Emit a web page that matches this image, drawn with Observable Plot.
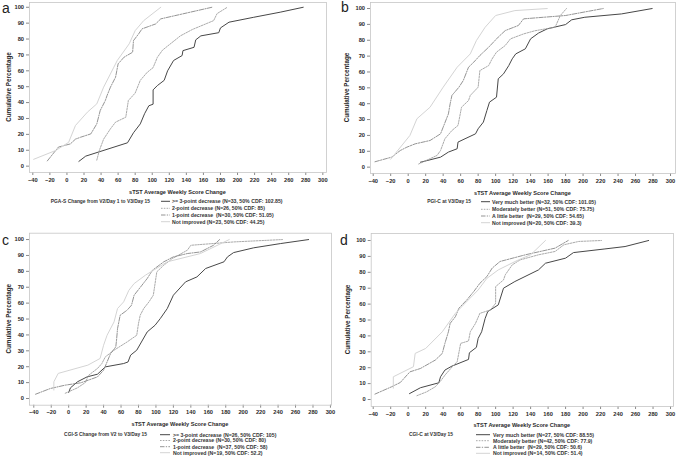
<!DOCTYPE html>
<html><head><meta charset="utf-8">
<script src="https://cdn.jsdelivr.net/npm/d3@7"></script>
<script src="https://cdn.jsdelivr.net/npm/@observablehq/plot@0.6"></script>
<style>
html,body{margin:0;padding:0;background:#fff;}
#root{position:relative;width:677px;height:458px;overflow:hidden;font-family:"Liberation Sans",Arial,sans-serif;}
.panel{position:absolute;}
.panel svg{position:absolute;left:0;top:0;overflow:visible;}
</style></head><body><div id="root"></div>
<script>
// ---------- tick labels / titles ----------
const xTicks = [-40,-20,0,20,40,60,80,100,120,140,160,180,200,220,240,260,280,300];
const yTicks = [0,10,20,30,40,50,60,70,80,90,100];
const xAxisTitle = "sTST Average Weekly Score Change";
const yAxisTitle = "Cumulative Percentage";

// ---------- panel a : PGA-S ----------
const aTitle = "PGA-S Change from V2/Day 1 to V3/Day 15";
const aLabels = [">= 3-point decrease (N=33, 50% CDF: 102.85)", "2-point decrease (N=26, 50% CDF: 85)", "1-point decrease  (N=30, 50% CDF: 51.05)", "Not improved (N=23, 50% CDF: 44.25)"];
const a1x = [14,22,71,78,86,91,96,101,101,106,114,118,125,135,136,149,151,157,178,180,190,219,250,277];
const a1y = [3,6.3,14.7,21,26.6,33,38,39,48,50.7,54,60,66.5,69.6,72.7,74.8,79.5,82,84,87,90.6,93.7,96.9,100];
const a2x = [35,38,43,51,57,69,72,80,86,94,101,106,112,133,147,172,176,188];
const a2y = [3.8,9.9,17,23.5,27.7,30.8,41.3,46,54,59,62,68.5,73,82,86,91.6,96,100];
const a3x = [-23,-10,4,10,16,28,35,39,45,47,51,57,60,67,77,78,84,88,104,110,170];
const a3y = [3.3,12,14,17,18.2,20.3,26.6,35,41.3,44.4,49.7,56,64.4,68.6,71.7,79,83.2,86.4,89.5,92.7,100];
const a4x = [-39,-13,2,10,24,35,43,55,59,73,80,90,110];
const a4y = [4.3,9.9,15,25.6,34,39.2,49.7,62.3,66.5,77,85.3,91.6,100];

// ---------- panel b : PGI-C ----------
const bTitle = "PGI-C at V3/Day 15";
const bLabels = ["Very much better (N=32, 50% CDF: 101.05)", "Moderately better (N=51, 50% CDF: 75.75)", "A little better  (N=29, 50% CDF: 54.65)", "Not improved (N=20, 50% CDF: 39.3)"];
const b1x = [14,37,46,56,57,65,77,80,86,90,93,101,103,109,115,119,123,134,140,149,159,180,187,202,244,279];
const b1y = [3.1,6.3,9.5,11.6,15.8,17.9,21,24.2,28.4,35.7,41,44.1,55.7,58.8,64,68.3,71.4,74.6,80.9,84.5,87.2,89.9,92.9,94.5,96.6,100];
const b2x = [12,33,37,42,50,57,61,69,71,80,82,92,96,101,111,117,132,145,168,174,181];
const b2y = [2,7.4,10.5,17.9,23.1,26.3,37.8,42,45.2,50.4,60.9,64,68.3,72.5,76.7,80.9,84,86,88.2,95.6,100];
const b3x = [-38,-19,-9,-1.5,8,25,37,40,46,48,50,58,63,69,75,82,92,103,111,126,132,180,223];
const b3y = [3.4,6.3,10.5,12.6,14.7,16.8,21,25.2,33.6,40,45.2,50.4,54.6,63,66.2,70.4,75.6,82,86.1,89.3,93.5,95.6,100];
const b4x = [-20,2,10,25,40,56,71,78,88,100,122,159];
const b4y = [5,20,30.5,37.8,50.4,63,71.4,79.8,88.2,95.6,98.7,100];

// ---------- panel c : CGI-S ----------
const cTitle = "CGI-S Change from V2 to V3/Day 15";
const cLabels = [">= 3-point decrease (N=26, 50% CDF: 105)", "2-point decrease (N=30, 50% CDF: 80)", "1-point decrease  (N=37, 50% CDF: 58)", "Not improved (N=19, 50% CDF: 52.2)"];
const c1x = [0,2,10,21,33,42,63,68,71,78,90,99,105,113,120,134,147,157,178,182,189,212,243,275];
const c1y = [3.8,6.7,10.5,13.6,15.3,19.9,22,23,27.3,30.4,41.9,46.1,50.3,56.6,65,73.4,76.5,81.8,86,89.1,91.8,94.8,97.5,100];
const c2x = [-4,10,19,23,33,38,42,52,67,78,80,82,86,92,97,99,101,109,119,136,140,189,245];
const c2y = [3.3,6.7,10,14.7,18.9,22,26.2,30.4,35.6,39.8,47.2,52.4,56.6,60.8,65,72.3,79.7,83.9,88.1,93.3,96.4,98.5,100];
const c3x = [-38,-21,-4,14,33,40,44,48,54,55,56,59,67,72,75,84,90,96,109,120,136,151,166,173];
const c3y = [2.7,6.3,8.4,9.9,13.6,17.8,23,28.3,32.5,37.7,44,52.4,55.6,58.7,65,71.3,75.5,80.7,86,89.1,91.2,92.2,96.4,100];
const c4x = [-17,-17,-12,22,36,40,44,52,56,63,69,75,88,113,151,184];
const c4y = [5.3,10.5,15.8,21,25.2,33.5,39.8,48.2,56.6,60.8,68.1,72.3,77.6,86,91.2,100];

// ---------- panel d : CGI-C ----------
const dTitle = "CGI-C at V3/Day 15";
const dLabels = ["Very much better (N=27, 50% CDF: 88.55)", "Moderately better (N=42, 50% CDF: 77.9)", "A little better  (N=29, 50% CDF: 50.6)", "Not improved (N=14, 50% CDF: 51.4)"];
const d1x = [1.5,14,35,37,42,50,69,70,78,80,84,88,91,103,109,122,149,157,180,189,225,248,275];
const d1y = [3.7,7.4,10.5,14.3,18.5,21,25.2,29.4,32.8,38.4,42.6,51,55.3,59.5,70,74.2,81.5,85.7,88.9,92.4,94.7,96.2,100];
const d2x = [10,21,31,37,42,52,56,60,69,71,77,82,94,100,100,109,111,119,128,149,168,178,195,221];
const d2y = [2.4,4.8,8,11.6,15.3,21.6,23.7,35.3,36.8,42.6,47.9,54.2,56.3,60.5,71,75.2,78.4,84.7,87.8,91,93.1,97.3,99.4,100];
const d3x = [-38,-19,-9,2,14,31,39,42,46,48,54,58,67,75,82,90,96,105,134,168,183];
const d3y = [3.4,8,10.7,17.4,19.5,24.8,29,35.3,42.6,47.9,52.1,57.4,62.6,67.9,73.1,77.3,82.6,86.8,91,95.2,100];
const d4x = [-17,-17,6,8,20,39,54,65,80,90,103,126,140,157];
const d4y = [7.1,14.3,20.6,29,32.1,42.6,54.2,60.5,68.9,76.2,81.5,87.8,91,100];

// ---------- styles / layout ----------
const seriesStyle = [
  {stroke: "#474747", dash: null, width: 1},
  {stroke: "#a0a0a0", dash: "1.6,1.2", width: 0.9},
  {stroke: "#888888", dash: "4.5,1.3,1.3,1.3", width: 0.9},
  {stroke: "#d4d4d4", dash: null, width: 1}
];
const FONT = "'Liberation Sans', Arial, sans-serif";

const panels = [
  {letter: "a", ox: 0, oy: 0, w: 338, l: 29, r: 326, t: 2, b: 172, xd: [-43.9, 304.3], yd: [-4, 103],
   ylx: 9, xlb: 194, title: aTitle, labels: aLabels, tEnd: 150, s0: 161, s1: 170, tx: 172,
   rows: [201.3, 208.3, 215, 221.7], lx: 2, ly: 13, series: [[a1x,a1y],[a2x,a2y],[a3x,a3y],[a4x,a4y]]},
  {letter: "b", ox: 338, oy: 0, w: 339, l: 32, r: 337, t: 2, b: 173, xd: [-43.1, 305.7], yd: [-4, 103.8],
   ylx: 9, xlb: 195, title: bTitle, labels: bLabels, tEnd: 133, s0: 143, s1: 152, tx: 154,
   rows: [201.7, 209.3, 216, 222.7], lx: 3, ly: 12, series: [[b1x,b1y],[b2x,b2y],[b3x,b3y],[b4x,b4y]]},
  {letter: "c", ox: 0, oy: 228, w: 338, l: 29, r: 331, t: 4.7, b: 176.7, xd: [-44.9, 301.2], yd: [-4.2, 104],
   ylx: 9, xlb: 198, title: cTitle, labels: cLabels, tEnd: 147, s0: 160, s1: 170, tx: 173,
   rows: [206.7, 212.5, 218.7, 224.7], lx: 2, ly: 17, series: [[c1x,c1y],[c2x,c2y],[c3x,c3y],[c4x,c4y]]},
  {letter: "d", ox: 338, oy: 228, w: 339, l: 32.7, r: 335, t: 5, b: 178, xd: [-42.3, 303.4], yd: [-4.4, 104.4],
   ylx: 10, xlb: 199, title: dTitle, labels: dLabels, tEnd: 115, s0: 138, s1: 152, tx: 155,
   rows: [206.7, 212.7, 219.3, 225.3], lx: 2, ly: 17, series: [[d1x,d1y],[d2x,d2y],[d3x,d3y],[d4x,d4y]]}
];

const root = document.getElementById("root");
for (const p of panels) {
  const div = document.createElement("div");
  div.className = "panel";
  div.style.left = p.ox + "px"; div.style.top = p.oy + "px";
  div.style.width = p.w + "px"; div.style.height = "230px";
  root.appendChild(div);

  const lineMarks = p.series.map(([xs, ys], i) => {
    const s = seriesStyle[i];
    const data = xs.map((x, k) => ({x, y: ys[k]}));
    return Plot.line(data, {x: "x", y: "y", stroke: s.stroke, strokeWidth: s.width,
      strokeDasharray: s.dash ?? undefined, curve: "linear"});
  });

  const chart = Plot.plot({
    width: p.w, height: p.b + 22,
    marginLeft: p.l, marginRight: p.w - p.r, marginTop: p.t, marginBottom: 22,
    x: {domain: p.xd}, y: {domain: p.yd},
    style: {fontFamily: FONT, fontSize: "5.7px", fontWeight: "bold", color: "#2a2a2a", background: "transparent"},
    marks: [
      Plot.axisX(xTicks, {tickSize: 3, tickPadding: 2, label: null, stroke: "#8a8a8a"}),
      Plot.axisY(yTicks, {tickSize: 3, tickPadding: 2.5, label: null, stroke: "#8a8a8a"}),
      ...lineMarks,
      Plot.frame({stroke: "#c6c6c6", strokeWidth: 0.8})
    ]
  });
  div.appendChild(chart);

  // overlay: panel letter, axis titles, legend
  const svg = d3.select(div).append("svg").attr("width", p.w).attr("height", 230)
    .style("font-family", FONT);
  svg.append("text").attr("x", p.lx).attr("y", p.ly).attr("font-size", 14).attr("fill", "#222")
    .text(p.letter);
  const fmid = (p.t + p.b) / 2;
  svg.append("text").attr("transform", `translate(${p.ylx},${fmid}) rotate(-90)`)
    .attr("text-anchor", "middle").attr("dy", "0.35em").attr("font-size", 6.3).attr("font-weight", "bold")
    .attr("fill", "#2a2a2a").text(yAxisTitle);
  svg.append("text").attr("x", (p.l + p.r) / 2).attr("y", p.xlb).attr("text-anchor", "middle")
    .attr("font-size", 5.6).attr("font-weight", "bold").attr("fill", "#2a2a2a").text(xAxisTitle);
  svg.append("text").attr("x", p.tEnd).attr("y", p.rows[0]).attr("dy", "0.35em").attr("text-anchor", "end")
    .attr("font-size", 4.9).attr("font-weight", "bold").attr("fill", "#333").text(p.title);
  p.labels.forEach((lab, i) => {
    const s = seriesStyle[i];
    svg.append("line").attr("x1", p.s0).attr("x2", p.s1).attr("y1", p.rows[i]).attr("y2", p.rows[i])
      .attr("stroke", s.stroke).attr("stroke-width", s.width).attr("stroke-dasharray", s.dash);
    svg.append("text").attr("x", p.tx).attr("y", p.rows[i]).attr("dy", "0.35em")
      .attr("font-size", 5.2).attr("font-weight", "bold").attr("fill", "#333")
      .style("white-space", "pre").text(lab);
  });
}
</script>
</body></html>
